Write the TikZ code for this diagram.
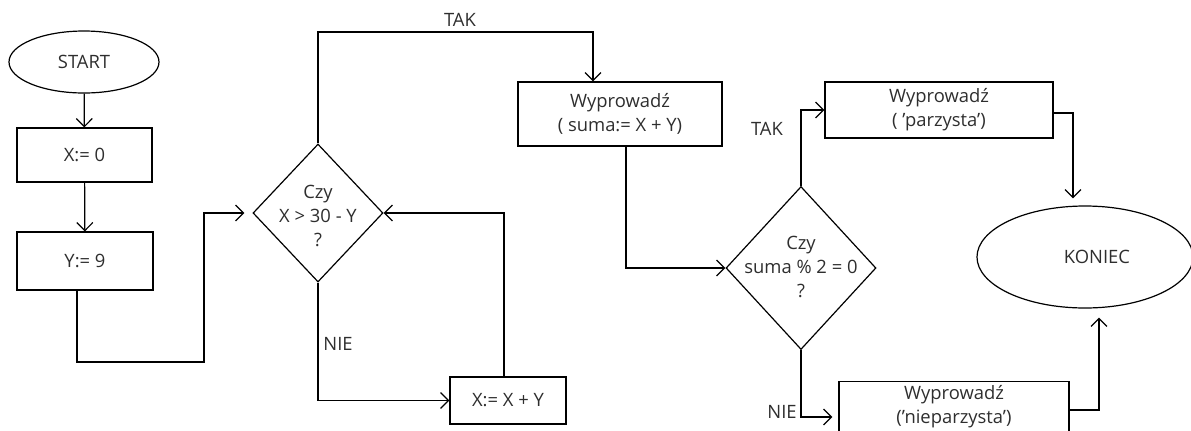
\documentclass[tikz,border=0pt]{standalone}
\usepackage{fontspec}
\setmainfont{Open Sans}
\usetikzlibrary{
  arrows.meta,
  shapes.geometric
}

\begin{document}
\begin{tikzpicture}[
    x=0.5pt, y=-0.5pt,
    line width=0.6pt,
  every node/.style = {font=\fontsize{9.2}{12}\selectfont, text=black!82,
    align=center, inner sep=0pt},
  box/.style = {shape=rectangle, draw},
  decision/.style = {shape=diamond, draw},
  term/.style = {shape=ellipse, draw},
  arr/.style = {-{Straight Barb[length=4pt, width=8pt]}}]
  % bloki
  \useasboundingbox (0,0) rectangle (1191,430);
  \node[term, minimum width=75pt, minimum height=31pt] (start) at (84,62) {START};
  \node[box, minimum width=67.5pt, minimum height=27pt] (x0) at (84.5,155) {X:= 0};
  \node[box, minimum width=68pt, minimum height=29pt] (y9) at (85,261) {Y:= 9};
  \node[decision, minimum width=65pt, minimum height=69pt] (d1) at (318,213) {};
  \node (d1Txt) at (318,216) {Czy\\ X > 30 - Y\\ ?};
  \node[box, minimum width=58pt, minimum height=23.5pt] (xy) at (508,400.5) {X:= X + Y};
  \node[box, minimum width=102pt, minimum height=32pt] (suma) at (620,114)
    {Wyprowadź\\ ( suma:= X + Y)};
  \node[decision, minimum width=75pt, minimum height=81.5pt] (d2) at (801,268) {};
  \node (d2Txt) at (801,267) {Czy\\ suma \% 2 = 0\\ ?};
  \node[box, minimum width=114pt, minimum height=28pt] (par) at (939,110)
    {Wyprowadź\\ ( 'parzysta')};
  \node[box, minimum width=115pt, minimum height=25pt] (niepar) at (954,406.5)
    {Wyprowadź\\ ('nieparzysta')};
  \node[term, minimum width=108pt, minimum height=51pt] (koniec) at (1085,257) {};
  \node (koniecTxt) at (1097,257) {KONIEC};
  % punkty pomocnicze
  \coordinate (k1) at (204,362);
  \coordinate (t1) at (318,32);
  % polaczenia
  \draw[arr] (start) -- (x0);
  \draw[arr] (x0) -- (y9);
  \draw[arr, shorten >=4pt] ([xshift=-4pt]y9.south) |- (k1) |- (d1.west);
  \draw[arr] (d1) -- (t1) -| ([xshift=-13.5pt]suma.north);
  \draw[arr] (d1) |- (xy.west);
  \draw[arr] ([xshift=-2pt]xy.north) |- (d1.east);
  \draw[arr] ([xshift=3pt]suma.south) |- (d2.west);
  \draw[arr] (d2) |- (par.west);
  \draw[arr, shorten >=3pt] (d2) |- ([yshift=-5.25pt]niepar.west);
  \draw[arr, shorten >=3.5pt] ([yshift=-1.5pt]par.east) -| ([xshift=-6pt]koniec.north);
  \draw[arr, shorten >=4.5pt] ([yshift=-1.75pt]niepar.east) -| ([xshift=7pt]koniec.south);
  % etykiety
  \node (tak1) at (460,20) {TAK};
  \node (nie1) at (338,344) {NIE};
  \node (tak2) at (767,129) {TAK};
  \node (nie2) at (782,412) {NIE};
\end{tikzpicture}
\end{document}
